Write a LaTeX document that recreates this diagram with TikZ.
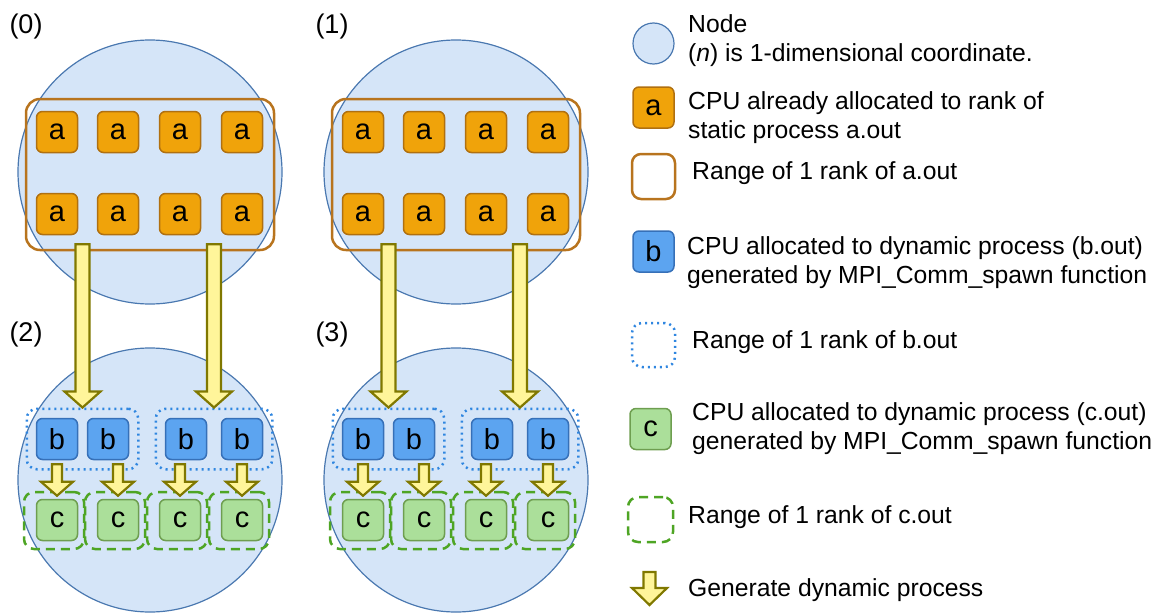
\documentclass[tikz,border=0pt]{standalone}
\usepackage{fontspec}
\setmainfont{Liberation Sans}
\usetikzlibrary{calc,fit}

\definecolor{nodefill}{HTML}{D5E5F8}
\definecolor{nodeline}{HTML}{4A78B0}
\definecolor{afill}{HTML}{F0A30A}
\definecolor{aline}{HTML}{B07010}
\definecolor{rangeaclr}{HTML}{B8741E}
\definecolor{bfill}{HTML}{5CA4F0}
\definecolor{bline}{HTML}{3670B8}
\definecolor{rangebclr}{HTML}{2F86E0}
\definecolor{cfill}{HTML}{ABDF9A}
\definecolor{cline}{HTML}{6E9E50}
\definecolor{rangecclr}{HTML}{4EA524}
\definecolor{arrowfill}{HTML}{FFF59A}
\definecolor{arrowline}{HTML}{807800}

% block arrow going down: start, end, half shaft, half head, head length
\newcommand{\spawn}[5]{%
  \draw[spawnarrow] let \p1=#1, \p2=#2 in
    (\x2-#3pt,\y1) -- (\x2-#3pt,\y2+#5pt) -- (\x2-#4pt,\y2+#5pt) -- (\x2,\y2)
    -- (\x2+#4pt,\y2+#5pt) -- (\x2+#3pt,\y2+#5pt) -- (\x2+#3pt,\y1) -- cycle;}

\tikzset{
  cnode/.style={circle, draw=nodeline, fill=nodefill, line width=1.2pt, minimum size=264pt, inner sep=0pt},
  cpu/.style={rectangle, rounded corners=6pt, line width=1.5pt, minimum size=41pt, inner sep=0pt,
    font=\fontsize{29}{30}\selectfont},
  cpua/.style={cpu, draw=aline, fill=afill},
  cpub/.style={cpu, draw=bline, fill=bfill},
  cpuc/.style={cpu, draw=cline, fill=cfill},
  rangea/.style={rectangle, rounded corners=14pt, draw=rangeaclr, line width=2.5pt, inner sep=0pt},
  rangeb/.style={rectangle, rounded corners=10pt, draw=rangebclr, line width=2.5pt, dash pattern=on 2pt off 4pt, inner sep=9pt},
  rangec/.style={rectangle, rounded corners=10pt, draw=rangecclr, line width=2.5pt, dash pattern=on 9pt off 6pt,
    minimum width=60pt, minimum height=57pt, inner sep=0pt},
  spawnarrow/.style={draw=arrowline, fill=arrowfill, line width=2.2pt, line join=miter},
  idx/.style={inner sep=0pt, font=\fontsize{27}{30}\selectfont},
  key/.style={anchor=west, align=left, inner sep=0pt, font=\fontsize{24.7}{29}\selectfont},
}

\begin{document}
\begin{tikzpicture}[x=1pt, y=-1pt]
  \useasboundingbox (0,0) rectangle (1163,613);

  % Nodes and their coordinates
  \foreach \k/\cx/\cy in {0/150/172, 1/456/172, 2/150/480, 3/456/480}{
    \node[cnode] (nd\k) at (\cx,\cy) {};
    \node[idx] (lb\k) at (\cx-124,\cy-145) {(\k)};
  }

  % Static process a.out
  \foreach \k/\ox in {0/0, 1/306}{
    \node[rangea, minimum width=248pt, minimum height=151pt] (ra\k) at (150+\ox,174.5) {};
    \foreach \i/\cx in {1/57, 2/118, 3/180, 4/242}{
      \node[cpua] (a\k\i) at (\cx+\ox,132) {a};
      \node[cpua] (aa\k\i) at (\cx+\ox,214) {a};
    }
  }

  % Dynamic processes b.out and c.out
  \foreach \k/\m/\ox in {2/0/0, 3/1/306}{
    \foreach \i/\cx in {1/57, 2/108, 3/186, 4/242}
      \node[cpub] (b\k\i) at (\cx+\ox,439) {b};
    \node[rangeb, fit=(b\k1)(b\k2)] (rb\k1) {};
    \node[rangeb, fit=(b\k3)(b\k4)] (rb\k2) {};
    \foreach \i/\cx in {1/57, 2/118, 3/180, 4/242}{
      \node[cpuc] (c\k\i) at (\cx+\ox,520) {c};
      \node[rangec] (rc\k\i) at (\cx+\ox-3,520.5) {};
      \spawn{($(c\k\i |- b\k\i.south)+(0,4)$)}{($(c\k\i.north)+(0,-3)$)}{5}{16}{14}
    }
    \spawn{($(ra\m.south -| rb\k1)+(0,-7)$)}{(rb\k1.north)}{7}{18}{16}
    \spawn{($(ra\m.south -| rb\k2)+(0,-7)$)}{(rb\k2.north)}{7}{18}{16}
  }

  % Legend
  \node[cnode, minimum size=41pt] (kn) at (653.5,43.5) {};
  \node[key] (tn) at (688,40.5) {Node\\(\textit{n}) is 1-dimensional coordinate.};
  \node[cpua] (ka) at (653.5,107.5) {a};
  \node[key] (ta) at (688,118) {CPU already allocated to rank of\\static process a.out};
  \node[rangea, minimum width=43pt, minimum height=45pt, rounded corners=9pt] (kra) at (653.5,176.5) {};
  \node[key] (tra) at (692,173) {Range of 1 rank of a.out};
  \node[cpub] (kb) at (653.5,251.5) {b};
  \node[key] (tb) at (687,262.5) {CPU allocated to dynamic process (b.out)\\generated by MPI\_Comm\_spawn function};
  \node[rangeb, minimum width=43pt, minimum height=44pt, inner sep=0pt] (krb) at (653.5,345) {};
  \node[key] (trb) at (692,342) {Range of 1 rank of b.out};
  \node[cpuc] (kc) at (650.5,429) {c};
  \node[key] (tc) at (692,429) {CPU allocated to dynamic process (c.out)\\generated by MPI\_Comm\_spawn function};
  \node[rangec, minimum width=45pt, minimum height=45pt] (krc) at (650.5,519.5) {};
  \node[key] (trc) at (688,517) {Range of 1 rank of c.out};
  \coordinate (g1) at (649.5,572);
  \coordinate (g2) at (649.5,605);
  \spawn{(g1)}{(g2)}{6}{17.5}{17}
  \node[key] (tg) at (688,590) {Generate dynamic process};
\end{tikzpicture}
\end{document}
